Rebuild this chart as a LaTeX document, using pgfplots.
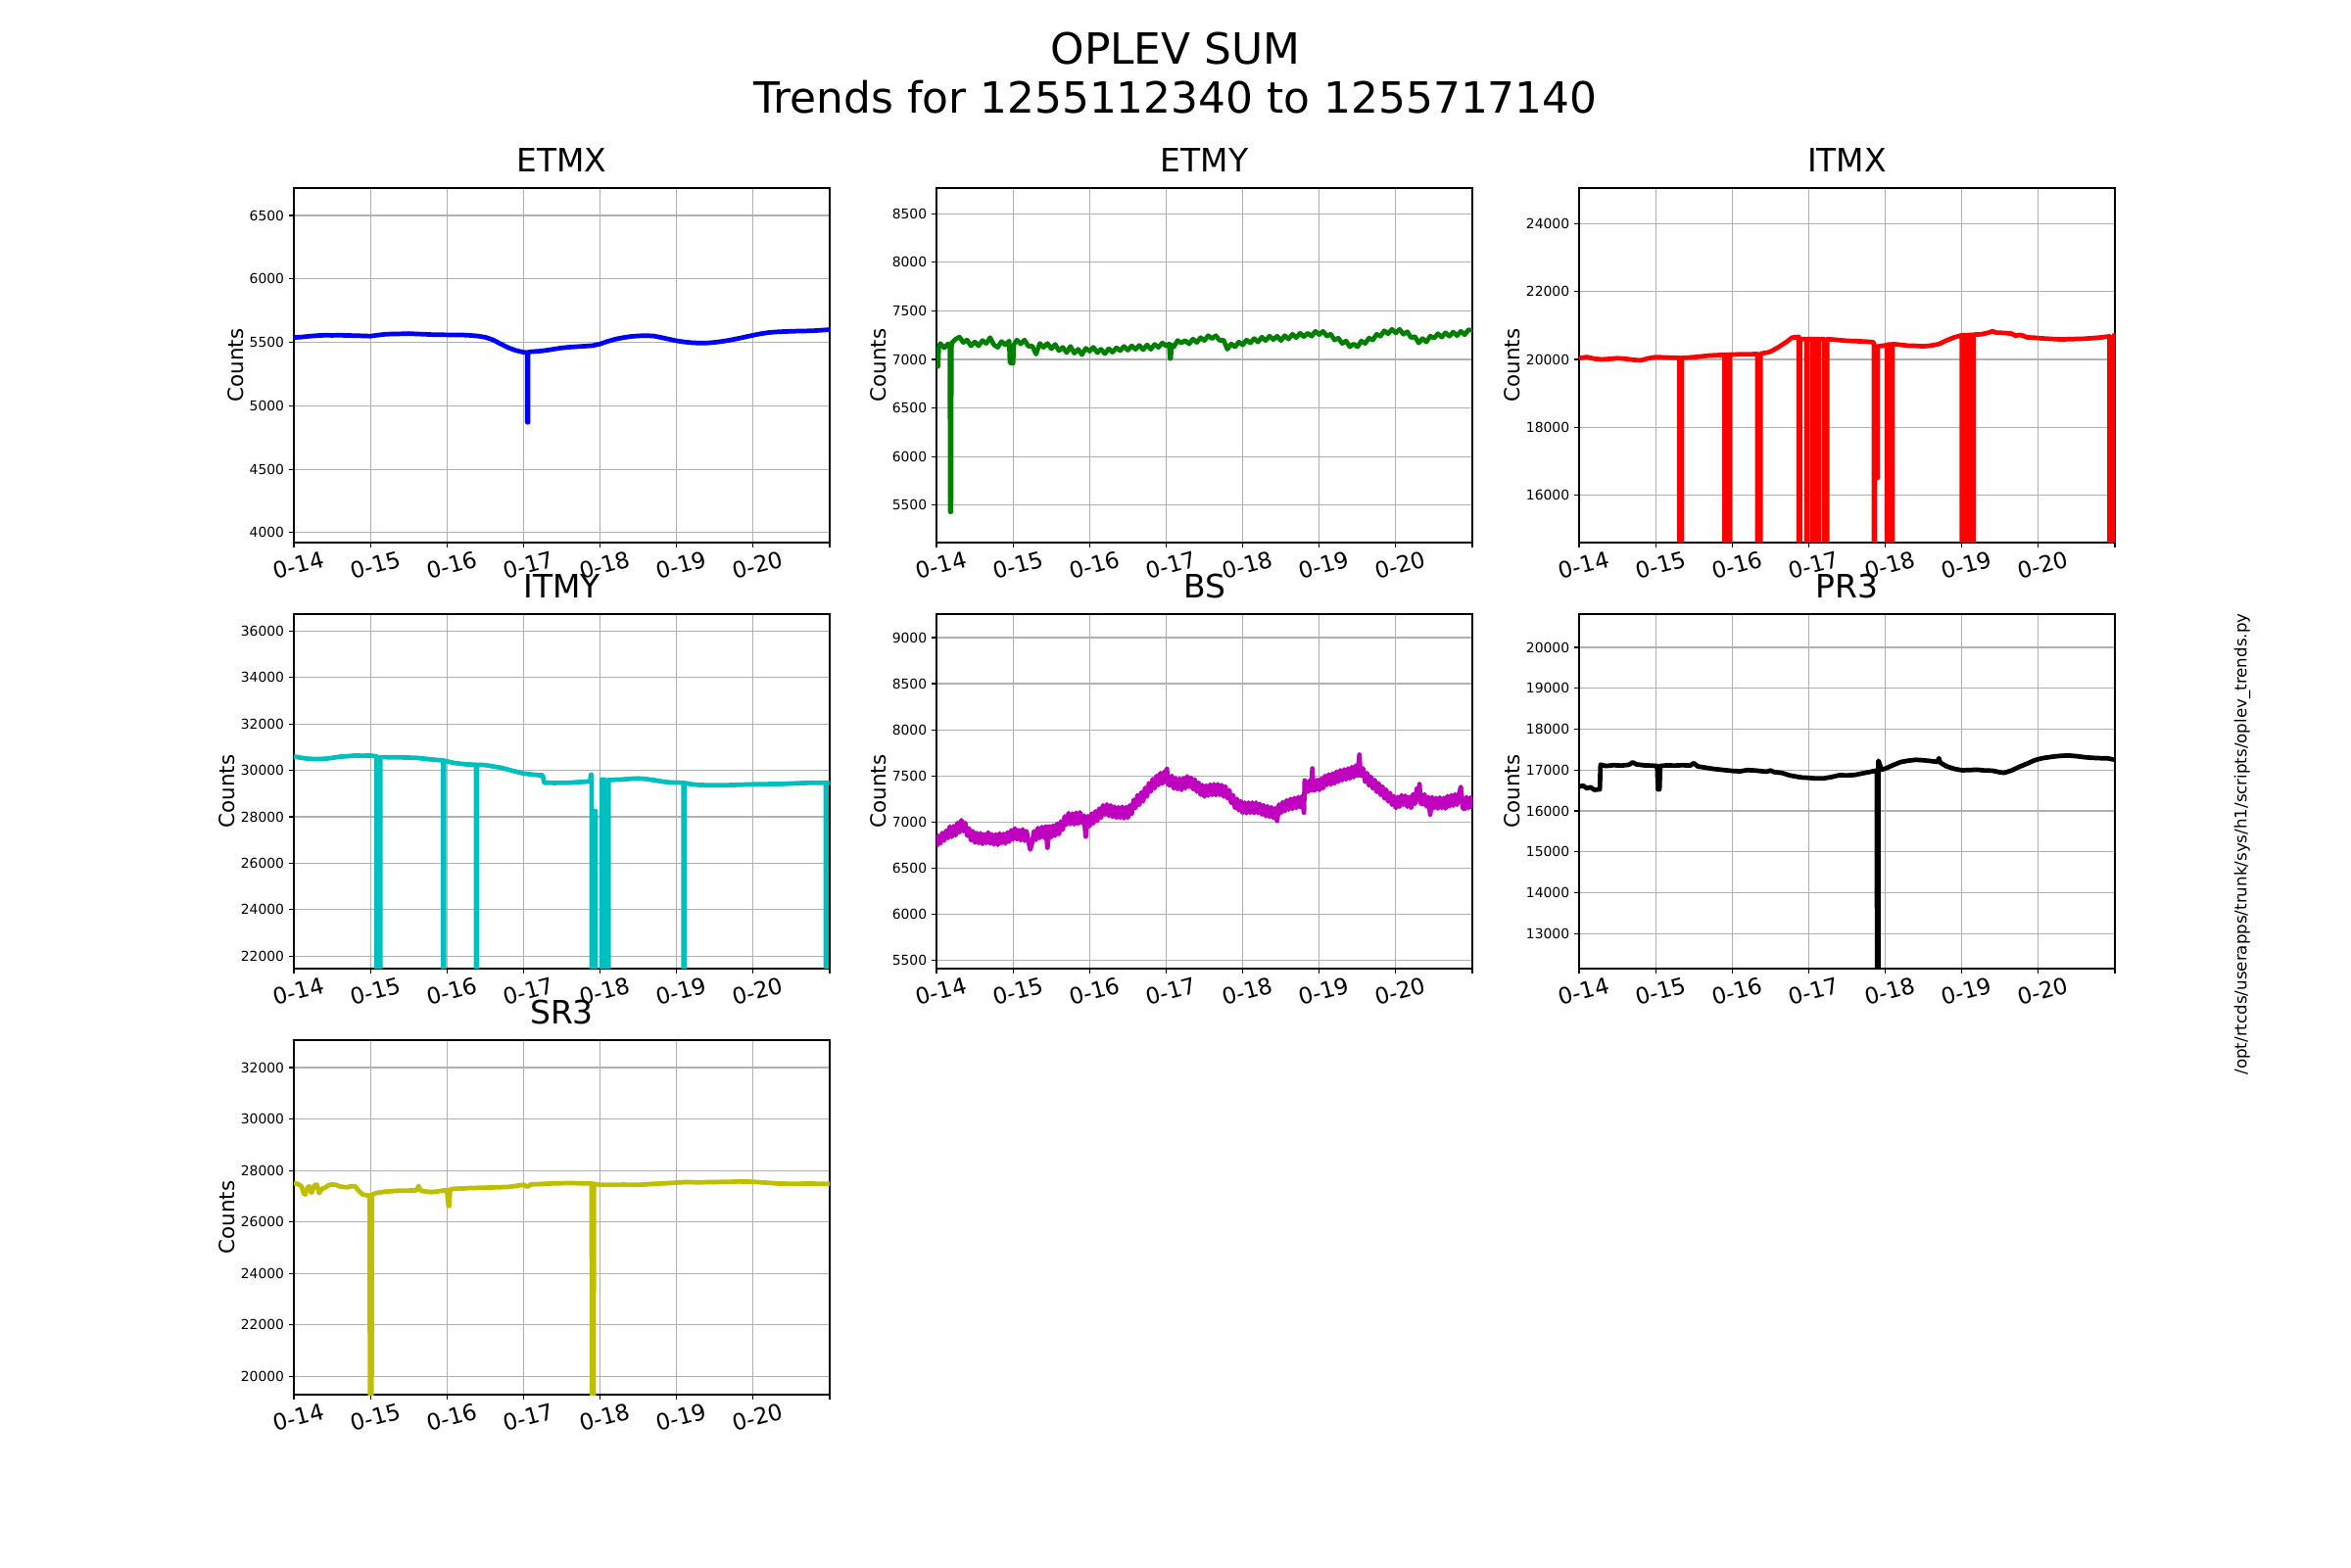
\documentclass[border=0pt]{standalone}
\usepackage{fontspec}
\setmainfont{DejaVu Sans}
\usepackage{pgfplots}
\pgfplotsset{compat=1.18}
\definecolor{gridgray}{HTML}{B0B0B0}
\definecolor{mplc}{rgb}{0,0.75,0.75}
\definecolor{mplm}{rgb}{0.75,0,0.75}
\definecolor{mply}{rgb}{0.75,0.75,0}
\definecolor{mplg}{rgb}{0,0.5,0}
\pgfplotsset{
  oplev/.style={
    scale only axis, width=393.84pt, height=260.64pt,
    anchor=north west,
    xmin=14, xmax=21,
    xtick={14,15,16,17,18,19,20,21},
    xticklabels={0-14,0-15,0-16,0-17,0-18,0-19,0-20,{}},
    grid=major, grid style={color=gridgray, line width=0.8pt},
    axis line style={line width=1pt},
    tick align=outside, xtick pos=bottom, ytick pos=left,
    major tick length=3.6pt, tick style={black, line width=0.8pt},
    scaled y ticks=false,
    /pgf/number format/set thousands separator={},
    /pgf/number format/assume math mode=true,
    yticklabel style={font=\fontsize{10}{12}\selectfont},
    xticklabel style={font=\fontsize{16.5}{19}\selectfont, rotate=15, anchor=center, yshift=-13.5pt},
    ylabel={Counts},
    ylabel style={font=\fontsize{15.4}{18}\selectfont, inner sep=1pt},
    title style={font=\fontsize{23.7}{28}\selectfont, at={(0.5,1)}, anchor=base, yshift=5.8pt},
    every axis plot/.append style={line width=3.4pt, line join=round, mark=none},
  }
}
\begin{document}
\begin{tikzpicture}
\path[use as bounding box] (0,0) rectangle (1728pt,1152pt);
\node[anchor=base, font=\fontsize{31.6}{36}\selectfont] at (864pt,1104.48pt) {OPLEV SUM};
\node[anchor=base, font=\fontsize{31.6}{36}\selectfont] at (864pt,1068.48pt) {Trends for 1255112340 to 1255717140};
\node[rotate=90, font=\fontsize{12}{14}\selectfont] at (1648pt,531.36pt) {/opt/rtcds/userapps/trunk/sys/h1/scripts/oplev\_trends.py};

% ETMX
\begin{axis}[oplev, at={(216pt,1013.76pt)}, title={ETMX}, ymin=3922, ymax=6716, ytick={4000,4500,5000,5500,6000,6500}]
\addplot[color=blue] coordinates {
(14.00,5538) (14.10,5542) (14.20,5548) (14.30,5553) (14.40,5556) (14.50,5555) (14.60,5556) (14.70,5554) (14.80,5553) (14.90,5551) (15.00,5549) (15.10,5557) (15.20,5564) (15.30,5566) (15.40,5567) (15.50,5569) (15.60,5566) (15.70,5564) (15.80,5561) (15.90,5560) (16.00,5559) (16.10,5559) (16.20,5558) (16.30,5555) (16.40,5550) (16.50,5540) (16.60,5520) (16.70,5488) (16.80,5458) (16.90,5436) (17.00,5422) (17.05,5420) (17.05,4870) (17.06,4870) (17.06,5422) (17.10,5426) (17.20,5430) (17.30,5437) (17.40,5447) (17.50,5456) (17.60,5462) (17.70,5466) (17.80,5470) (17.90,5474) (18.00,5487) (18.10,5508) (18.20,5525) (18.30,5537) (18.40,5546) (18.50,5551) (18.60,5553) (18.70,5550) (18.80,5538) (18.90,5525) (19.00,5512) (19.10,5503) (19.20,5497) (19.30,5494) (19.40,5495) (19.50,5500) (19.60,5508) (19.70,5518) (19.80,5530) (19.90,5543) (20.00,5556) (20.10,5568) (20.20,5577) (20.30,5582) (20.40,5585) (20.50,5587) (20.60,5589) (20.70,5590) (20.80,5592) (20.90,5596) (21.00,5600)
};
\end{axis}

% ETMY
\begin{axis}[oplev, at={(688.32pt,1013.76pt)}, title={ETMY}, ymin=5113, ymax=8766, ytick={5500,6000,6500,7000,7500,8000,8500}]
\addplot[color=mplg] coordinates {
(14.00,7130) (14.01,6930) (14.02,6925) (14.03,7120) (14.05,7165) (14.10,7120) (14.15,7160) (14.175,7140) (14.18,5430) (14.19,5430) (14.195,7120) (14.20,7170) (14.25,7210) (14.30,7230) (14.35,7175) (14.40,7200) (14.45,7140) (14.50,7180) (14.55,7140) (14.60,7195) (14.65,7165) (14.70,7225) (14.75,7150) (14.80,7125) (14.85,7185) (14.90,7150) (14.95,7190) (14.96,6965) (15.00,6960) (15.01,7150) (15.05,7200) (15.10,7160) (15.15,7200) (15.20,7135) (15.25,7140) (15.30,7055) (15.35,7165) (15.40,7125) (15.45,7165) (15.50,7110) (15.55,7155) (15.60,7090) (15.65,7125) (15.70,7070) (15.75,7135) (15.80,7065) (15.85,7105) (15.90,7050) (15.95,7115) (16.00,7085) (16.05,7125) (16.10,7070) (16.15,7105) (16.20,7060) (16.25,7110) (16.30,7075) (16.35,7120) (16.40,7090) (16.45,7135) (16.50,7095) (16.55,7140) (16.60,7105) (16.65,7145) (16.70,7100) (16.75,7150) (16.80,7105) (16.85,7155) (16.90,7125) (16.95,7170) (17.00,7140) (17.04,7160) (17.05,7007) (17.06,7010) (17.07,7150) (17.10,7130) (17.15,7195) (17.20,7170) (17.25,7195) (17.30,7160) (17.35,7210) (17.40,7175) (17.45,7225) (17.50,7195) (17.55,7245) (17.60,7215) (17.65,7245) (17.70,7195) (17.75,7200) (17.80,7105) (17.85,7160) (17.90,7130) (17.95,7180) (18.00,7150) (18.05,7200) (18.10,7170) (18.15,7215) (18.20,7180) (18.25,7230) (18.30,7195) (18.35,7240) (18.40,7205) (18.45,7240) (18.50,7195) (18.55,7245) (18.60,7210) (18.65,7260) (18.70,7225) (18.75,7270) (18.80,7235) (18.85,7270) (18.90,7240) (18.95,7290) (19.00,7256) (19.05,7290) (19.10,7240) (19.15,7260) (19.20,7200) (19.25,7220) (19.30,7165) (19.35,7190) (19.40,7130) (19.45,7160) (19.50,7130) (19.55,7190) (19.60,7165) (19.65,7220) (19.70,7200) (19.75,7260) (19.80,7240) (19.85,7295) (19.90,7265) (19.95,7310) (20.00,7273) (20.05,7310) (20.10,7260) (20.15,7285) (20.20,7225) (20.25,7235) (20.30,7170) (20.35,7215) (20.40,7180) (20.45,7240) (20.50,7220) (20.55,7265) (20.60,7230) (20.65,7275) (20.70,7240) (20.75,7282) (20.80,7245) (20.85,7290) (20.90,7255) (20.95,7305) (21.00,7300)
};
\end{axis}

% ITMX
\begin{axis}[oplev, at={(1160.64pt,1013.76pt)}, title={ITMX}, ymin=14606, ymax=25048, ytick={16000,18000,20000,22000,24000}]
\addplot[color=red] coordinates {
(14.00,20038) (14.10,20070) (14.20,20020) (14.30,20000) (14.40,20015) (14.50,20035) (14.60,20020) (14.70,19990) (14.80,19971) (14.90,20030) (15.00,20067) (15.10,20060) (15.20,20050) (15.31,20045) (15.31,10000) (15.34,10000) (15.34,20045) (15.40,20050) (15.50,20067) (15.60,20090) (15.70,20115) (15.80,20125) (15.90,20140) (15.90,10000) (15.915,10000) (15.915,20140) (15.955,20140) (15.955,10000) (15.97,10000) (15.97,20144) (16.00,20144) (16.10,20150) (16.20,20150) (16.33,20160) (16.33,10000) (16.37,10000) (16.37,20170) (16.45,20200) (16.50,20230) (16.60,20356) (16.70,20500) (16.78,20640) (16.87,20664) (16.87,10000) (16.885,10000) (16.885,20600) (16.97,20600) (16.97,10000) (16.985,10000) (16.985,20600) (17.05,20600) (17.05,10000) (17.065,10000) (17.065,20600) (17.12,20600) (17.12,10000) (17.13,10000) (17.13,20596) (17.20,20596) (17.20,10000) (17.24,10000) (17.24,20596) (17.30,20590) (17.40,20570) (17.50,20548) (17.60,20540) (17.70,20530) (17.80,20519) (17.85,20500) (17.85,10000) (17.865,10000) (17.865,20380) (17.89,20380) (17.89,16510) (17.90,16510) (17.90,20380) (17.95,20400) (18.02,20420) (18.02,10000) (18.035,10000) (18.035,20440) (18.08,20440) (18.08,10000) (18.095,10000) (18.095,20452) (18.20,20430) (18.30,20404) (18.40,20400) (18.50,20385) (18.60,20410) (18.70,20452) (18.80,20560) (18.90,20650) (19.00,20712) (19.00,10000) (19.02,10000) (19.02,20712) (19.06,20712) (19.06,10000) (19.08,10000) (19.08,20720) (19.13,20720) (19.13,10000) (19.15,10000) (19.15,20730) (19.25,20740) (19.35,20790) (19.40,20830) (19.45,20790) (19.55,20780) (19.65,20760) (19.70,20700) (19.75,20720) (19.80,20700) (19.85,20650) (19.95,20640) (20.05,20620) (20.20,20600) (20.30,20590) (20.45,20600) (20.60,20610) (20.80,20644) (20.93,20680) (20.93,10000) (20.99,10000) (20.99,20720) (21.00,20712)
};
\end{axis}

% ITMY
\begin{axis}[oplev, at={(216pt,700.56pt)}, title={ITMY}, ymin=21465, ymax=36732, ytick={22000,24000,26000,28000,30000,32000,34000,36000}]
\addplot[color=mplc] coordinates {
(14.00,30597) (14.10,30540) (14.20,30499) (14.30,30490) (14.40,30499) (14.50,30540) (14.60,30590) (14.70,30610) (14.80,30640) (14.90,30630) (15.00,30640) (15.08,30600) (15.08,10000) (15.13,10000) (15.13,30569) (15.20,30569) (15.40,30560) (15.60,30541) (15.80,30471) (15.95,30428) (15.95,10000) (15.96,10000) (15.96,30420) (16.10,30316) (16.25,30260) (16.38,30246) (16.38,10000) (16.39,10000) (16.39,30240) (16.50,30230) (16.60,30175) (16.70,30120) (16.80,30034) (16.90,29950) (17.00,29866) (17.10,29830) (17.20,29795) (17.25,29790) (17.27,29471) (17.40,29460) (17.60,29470) (17.80,29513) (17.87,29520) (17.88,29823) (17.89,29800) (17.89,10000) (17.92,10000) (17.925,28250) (17.94,28250) (17.945,10000) (18.02,10000) (18.02,29600) (18.06,29600) (18.06,10000) (18.11,10000) (18.11,29590) (18.20,29600) (18.30,29612) (18.40,29640) (18.50,29654) (18.60,29630) (18.70,29584) (18.80,29530) (18.90,29485) (19.00,29475) (19.09,29470) (19.09,10000) (19.10,10000) (19.10,29460) (19.20,29400) (19.30,29373) (19.45,29360) (19.60,29359) (19.80,29380) (20.00,29401) (20.20,29410) (20.40,29420) (20.60,29450) (20.80,29471) (20.95,29471) (20.95,10000) (20.96,10000) (20.96,29471) (21.00,29471)
};
\end{axis}

% BS
\begin{axis}[oplev, at={(688.32pt,700.56pt)}, title={BS}, ymin=5408, ymax=9255, ytick={5500,6000,6500,7000,7500,8000,8500,9000}]
\addplot[color=mplm] coordinates {
(14.000,6730)(14.025,6850)(14.050,6765)(14.075,6880)(14.100,6796)(14.125,6905)(14.150,6825)(14.175,6950)(14.200,6837)(14.225,6955)(14.250,6855)(14.275,6990)(14.300,6885)(14.325,7020)(14.350,6900)(14.375,6990)(14.400,6850)(14.425,6930)(14.450,6800)(14.475,6900)(14.500,6775)(14.525,6880)(14.550,6770)(14.575,6878)(14.600,6760)(14.625,6866)(14.650,6771)(14.675,6886)(14.700,6766)(14.725,6866)(14.750,6755)(14.775,6865)(14.800,6750)(14.825,6875)(14.850,6770)(14.875,6870)(14.900,6765)(14.925,6885)(14.950,6785)(14.975,6910)(15.000,6810)(15.025,6930)(15.050,6810)(15.075,6910)(15.100,6800)(15.125,6920)(15.150,6795)(15.175,6900)(15.200,6796)(15.225,6700)(15.250,6775)(15.275,6900)(15.300,6805)(15.325,6935)(15.350,6825)(15.375,6945)(15.400,6832)(15.425,6950)(15.450,6720)(15.475,6950)(15.500,6835)(15.525,6960)(15.550,6850)(15.575,6980)(15.600,6867)(15.625,7005)(15.650,6915)(15.675,7060)(15.700,6970)(15.725,7095)(15.750,6975)(15.775,7090)(15.800,6973)(15.825,7100)(15.850,6980)(15.875,7105)(15.900,6990)(15.925,7070)(15.950,6840)(15.975,7060)(16.000,6955)(16.025,7090)(16.050,6985)(16.075,7115)(16.100,7010)(16.125,7145)(16.150,7045)(16.175,7180)(16.200,7080)(16.225,7190)(16.250,7065)(16.275,7180)(16.300,7055)(16.325,7165)(16.350,7045)(16.375,7160)(16.400,7044)(16.425,7165)(16.450,7040)(16.475,7160)(16.500,7045)(16.525,7180)(16.550,7085)(16.575,7240)(16.600,7150)(16.625,7290)(16.650,7185)(16.675,7320)(16.700,7222)(16.725,7370)(16.750,7275)(16.775,7420)(16.800,7328)(16.825,7465)(16.850,7365)(16.875,7500)(16.900,7400)(16.925,7530)(16.950,7415)(16.975,7545)(17.000,7434)(17.010,7575)(17.025,7410)(17.050,7395)(17.075,7500)(17.100,7363)(17.125,7475)(17.150,7355)(17.175,7470)(17.200,7346)(17.225,7475)(17.250,7365)(17.275,7495)(17.300,7381)(17.325,7480)(17.350,7355)(17.375,7460)(17.400,7328)(17.425,7425)(17.450,7295)(17.475,7400)(17.500,7275)(17.525,7395)(17.550,7285)(17.575,7405)(17.600,7293)(17.625,7410)(17.650,7290)(17.675,7410)(17.700,7293)(17.725,7400)(17.750,7275)(17.775,7385)(17.800,7257)(17.825,7345)(17.850,7205)(17.875,7290)(17.900,7151)(17.925,7250)(17.950,7125)(17.975,7225)(18.000,7098)(18.025,7210)(18.050,7095)(18.075,7210)(18.100,7098)(18.125,7210)(18.150,7095)(18.175,7210)(18.200,7098)(18.225,7195)(18.250,7080)(18.275,7180)(18.300,7062)(18.325,7170)(18.350,7055)(18.375,7160)(18.400,7044)(18.425,7150)(18.450,7010)(18.475,7190)(18.500,7098)(18.525,7215)(18.550,7115)(18.575,7235)(18.600,7133)(18.625,7250)(18.650,7140)(18.675,7260)(18.700,7151)(18.725,7270)(18.750,7160)(18.775,7275)(18.800,7100)(18.810,7450)(18.825,7330)(18.850,7328)(18.875,7450)(18.900,7345)(18.910,7580)(18.925,7345)(18.950,7345)(18.975,7455)(19.000,7345)(19.025,7470)(19.050,7365)(19.075,7500)(19.100,7399)(19.125,7515)(19.150,7405)(19.175,7525)(19.200,7417)(19.225,7545)(19.250,7435)(19.275,7560)(19.300,7452)(19.325,7570)(19.350,7460)(19.375,7580)(19.400,7470)(19.425,7595)(19.450,7485)(19.475,7610)(19.500,7505)(19.525,7730)(19.540,7500)(19.550,7505)(19.575,7580)(19.600,7434)(19.625,7530)(19.650,7395)(19.675,7490)(19.700,7363)(19.725,7455)(19.750,7325)(19.775,7420)(19.800,7293)(19.825,7385)(19.850,7255)(19.875,7350)(19.900,7222)(19.925,7315)(19.950,7185)(19.975,7280)(20.000,7151)(20.025,7270)(20.050,7165)(20.075,7290)(20.100,7186)(20.125,7285)(20.150,7165)(20.175,7270)(20.200,7151)(20.225,7300)(20.250,7195)(20.275,7360)(20.300,7240)(20.310,7410)(20.325,7200)(20.350,7195)(20.375,7300)(20.400,7168)(20.425,7270)(20.450,7080)(20.475,7265)(20.500,7151)(20.525,7260)(20.550,7145)(20.575,7265)(20.600,7151)(20.625,7260)(20.650,7145)(20.675,7280)(20.700,7168)(20.725,7290)(20.750,7175)(20.775,7300)(20.800,7186)(20.825,7300)(20.850,7380)(20.875,7150)(20.900,7140)(20.925,7270)(20.950,7150)(20.975,7265)(21.000,7145)
};
\end{axis}

% PR3
\begin{axis}[oplev, at={(1160.64pt,700.56pt)}, title={PR3}, ymin=12145, ymax=20815, ytick={13000,14000,15000,16000,17000,18000,19000,20000}]
\addplot[color=black] coordinates {
(14.00,16596) (14.05,16620) (14.10,16556) (14.15,16580) (14.20,16516) (14.27,16530) (14.28,17132) (14.35,17100) (14.45,17120) (14.55,17110) (14.65,17130) (14.70,17190) (14.75,17140) (14.85,17116) (14.95,17110) (15.02,17100) (15.03,16530) (15.05,16530) (15.06,17100) (15.15,17116) (15.25,17110) (15.35,17120) (15.45,17110) (15.50,17170) (15.55,17090) (15.65,17060) (15.75,17030) (15.85,17010) (16.00,16980) (16.10,16970) (16.20,17000) (16.30,16990) (16.45,16960) (16.50,16990) (16.55,16950) (16.65,16930) (16.75,16870) (16.90,16820) (17.00,16810) (17.10,16796) (17.20,16800) (17.30,16830) (17.40,16876) (17.50,16870) (17.60,16880) (17.70,16920) (17.80,16956) (17.89,16990) (17.895,5000) (17.905,5000) (17.91,17230) (17.95,17010) (18.00,17036) (18.10,17120) (18.20,17196) (18.30,17230) (18.40,17251) (18.50,17240) (18.60,17219) (18.68,17200) (18.70,17290) (18.72,17180) (18.80,17092) (18.90,17030) (19.00,16996) (19.10,17000) (19.20,17010) (19.30,16990) (19.40,16985) (19.50,16945) (19.55,16932) (19.65,16990) (19.75,17080) (19.85,17156) (19.95,17240) (20.05,17290) (20.20,17331) (20.30,17350) (20.40,17355) (20.50,17340) (20.60,17315) (20.70,17300) (20.80,17291) (20.90,17290) (21.00,17251)
};
\end{axis}

% SR3
\begin{axis}[oplev, at={(216pt,387.36pt)}, title={SR3}, ymin=19290, ymax=33066, ytick={20000,22000,24000,26000,28000,30000,32000}]
\addplot[color=mply] coordinates {
(14.00,27509) (14.05,27480) (14.10,27383) (14.13,27100) (14.15,27065) (14.18,27350) (14.20,27383) (14.23,27130) (14.27,27430) (14.30,27446) (14.33,27120) (14.37,27300) (14.40,27319) (14.45,27420) (14.50,27460) (14.55,27440) (14.60,27383) (14.65,27360) (14.70,27350) (14.75,27390) (14.80,27383) (14.85,27200) (14.90,27065) (14.95,27040) (14.99,27027) (15.00,10000) (15.01,10000) (15.02,27060) (15.05,27100) (15.10,27142) (15.20,27180) (15.30,27200) (15.40,27218) (15.50,27220) (15.60,27230) (15.63,27400) (15.65,27230) (15.70,27192) (15.80,27160) (15.90,27200) (16.00,27240) (16.02,26622) (16.03,26622) (16.04,27260) (16.10,27294) (16.20,27300) (16.30,27319) (16.50,27332) (16.80,27360) (16.90,27400) (17.00,27446) (17.05,27370) (17.10,27460) (17.20,27470) (17.40,27500) (17.60,27509) (17.80,27500) (17.89,27500) (17.90,10000) (17.91,10000) (17.92,27480) (18.00,27446) (18.20,27440) (18.30,27450) (18.50,27440) (18.70,27480) (18.90,27509) (19.10,27547) (19.30,27540) (19.50,27550) (19.70,27560) (19.80,27573) (20.00,27560) (20.20,27520) (20.30,27497) (20.50,27480) (20.70,27490) (20.90,27484) (21.00,27484)
};
\end{axis}
\end{tikzpicture}
\end{document}
